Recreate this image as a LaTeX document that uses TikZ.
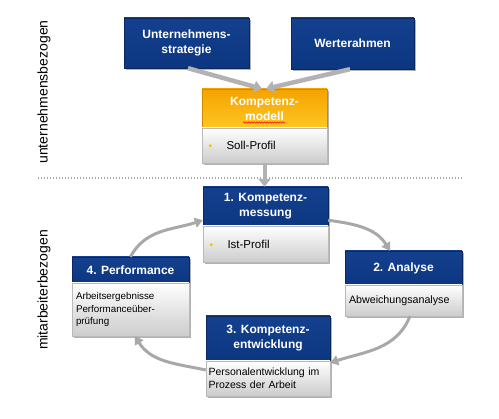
\documentclass[tikz,border=0pt]{standalone}
\usepackage{fontspec}
\setmainfont{Liberation Sans}
\usetikzlibrary{arrows.meta,shadows,decorations.pathmorphing}
\definecolor{hblue}{RGB}{12,54,128}
\definecolor{hbluetop}{RGB}{20,64,142}
\definecolor{arrgray}{RGB}{168,168,168}
\definecolor{toparr}{RGB}{178,178,178}
\definecolor{otop}{RGB}{244,163,0}
\definecolor{obot}{RGB}{255,198,34}
\definecolor{bbot}{RGB}{204,204,204}
\definecolor{bulletc}{RGB}{255,186,0}
\begin{document}
\begin{tikzpicture}[x=1pt,y=-1pt,
  boxbase/.style={rectangle, inner sep=0pt,
    drop shadow={shadow xshift=1.6pt, shadow yshift=-1.8pt, opacity=0.3, fill=black}},
  hdr/.style={boxbase, top color=hbluetop, bottom color=hblue, draw=hblue!75!black, line width=0.4pt,
    text=white, font=\fontsize{12}{15}\selectfont\bfseries, align=center},
  ohdr/.style={boxbase, top color=otop, bottom color=obot, draw=otop!85!black, line width=0.4pt,
    text=white, font=\fontsize{12}{15}\selectfont\bfseries, align=center},
  bodybox/.style={boxbase, top color=white, bottom color=bbot, draw=gray!55, line width=0.4pt,
    text=black, align=left},
  sidelabel/.style={rotate=90, font=\fontsize{14}{16}\selectfont, inner sep=0pt},
  toparrow/.style={draw=toparr, line width=4.5pt, -{Triangle[width=12pt,length=8pt]}},
  cycarrow/.style={draw=arrgray, line width=3pt, -{Triangle[width=10pt,length=8pt]}},
  sepline/.style={draw=gray!70, line width=1.3pt, dash pattern=on 1.3pt off 1.7pt}
]
\useasboundingbox (0,0) rectangle (499,419);

% side labels
\node[sidelabel] (lab1) at (44,92) {unternehmensbezogen};
\node[sidelabel] (lab2) at (44,290) {mitarbeiterbezogen};

% separator
\coordinate (sepL) at (38,178);
\coordinate (sepR) at (463,178);
\draw[sepline] (sepL) -- (sepR);

% top boxes
\node[hdr, minimum width=125pt, minimum height=50pt] (us) at (186.5,43) {Unternehmens-\\strategie};
\node[hdr, minimum width=123pt, minimum height=51pt] (wr) at (352.5,43.5) {Werterahmen};

% Kompetenzmodell
\node[ohdr, minimum width=125pt, minimum height=39pt] (kmh) at (264.5,108.5) {Kompetenz-\\modell};
\node[bodybox, text width=117pt, minimum height=35pt, inner xsep=4pt, font=\fontsize{11.5}{14}\selectfont] (kmb) at (264.5,145.5)
  {\hspace*{2.5pt}{\color{bulletc}\fontsize{10}{10}\selectfont •}\hspace{14.5pt}Soll-Profil};
\coordinate (sqL) at (243,122.5);
\coordinate (sqR) at (285,122.5);
\draw[red, line width=0.5pt, decorate, decoration={snake, amplitude=0.7pt, segment length=2.6pt}] (sqL) -- (sqR);

% 1
\node[hdr, minimum width=125pt, minimum height=39pt] (m1h) at (265.5,206.5) {1. Kompetenz-\\messung};
\node[bodybox, text width=117pt, minimum height=36pt, inner xsep=4pt, font=\fontsize{11.5}{14}\selectfont] (m1b) at (265.5,244)
  {\hspace*{2.5pt}{\color{bulletc}\fontsize{10}{10}\selectfont •}\hspace{14.5pt}Ist-Profil};

% 2
\node[hdr, minimum width=117pt, minimum height=34pt] (anh) at (403.5,268) {2. Analyse};
\node[bodybox, text width=109pt, minimum height=31pt, inner xsep=4pt, font=\fontsize{10.7}{13}\selectfont] (anb) at (403.5,300.5)
  {Abweichungsanalyse};

% 4
\node[hdr, minimum width=117pt, minimum height=26pt] (pfh) at (130.5,270) {4. Performance};
\node[bodybox, text width=109pt, minimum height=53pt, inner xsep=4pt, font=\fontsize{9.8}{12.5}\selectfont] (pfb) at (130.5,309.5)
  {Arbeitsergebnisse\\Performanceüber-\\prüfung};

% 3
\node[hdr, minimum width=124pt, minimum height=45pt] (keh) at (268,338.5) {3. Kompetenz-\\entwicklung};
\node[bodybox, text width=119pt, minimum height=35pt, inner xsep=2.5pt, font=\fontsize{10.5}{13}\selectfont] (keb) at (268,378.5)
  {Personalentwicklung im\\Prozess der Arbeit};

% arrows top
\draw[toparrow] ([xshift=1.5pt]us.south) -- ([xshift=-2.5pt]kmh.north);
\draw[toparrow] ([xshift=-2.5pt]wr.south) -- ([xshift=1.5pt]kmh.north);
\draw[toparrow, line width=4pt] (kmb.south) -- (kmb.south |- m1h.north);

% cycle arrows
\draw[cycarrow] (pfh.north) to[out=62, in=198] ([yshift=6pt]m1h.south west);
\draw[cycarrow] ([yshift=6pt]m1h.south east) to[out=-8, in=122] ([xshift=-13.5pt]anh.north);
\draw[cycarrow] ([xshift=6.5pt]anb.south) to[out=-112, in=18] ([yshift=-2pt]keb.north east);
\draw[cycarrow] ([yshift=8.5pt]keb.west) to[out=168, in=-58] ([xshift=4.5pt]pfb.south);
\end{tikzpicture}
\end{document}
